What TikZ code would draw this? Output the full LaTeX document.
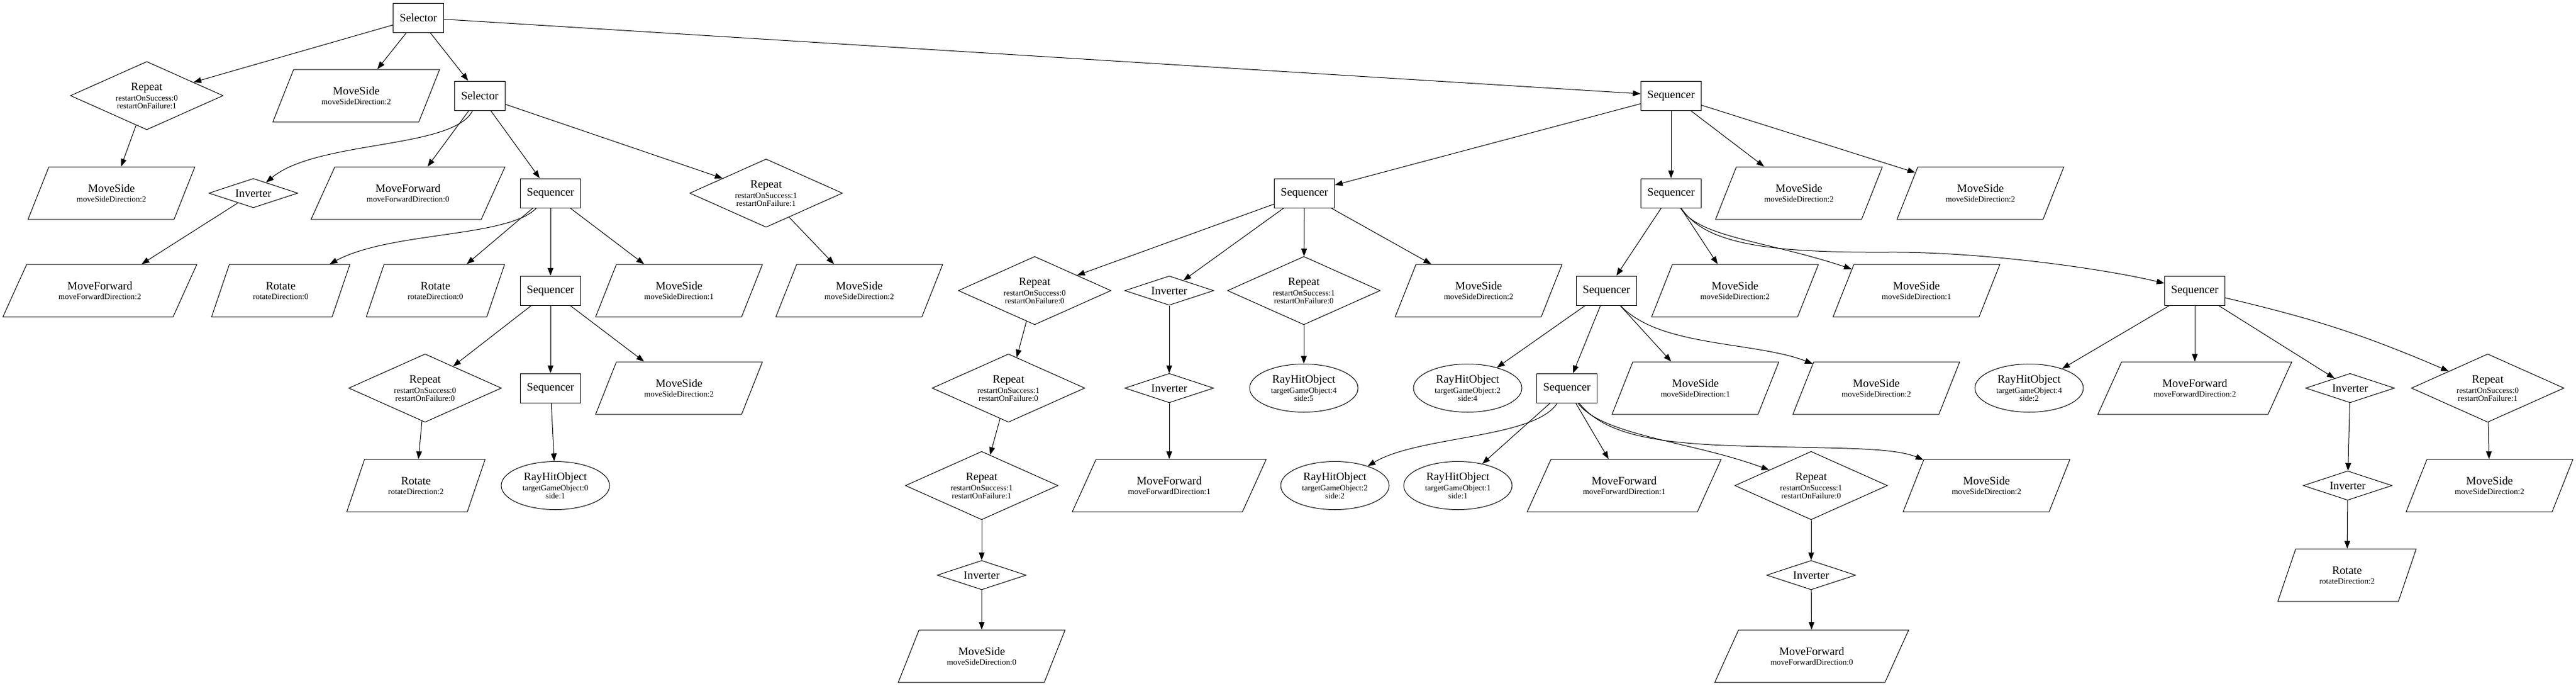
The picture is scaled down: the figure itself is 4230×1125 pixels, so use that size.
\documentclass[tikz,border=0pt]{standalone}
\usepackage{fontspec}
\setmainfont{Liberation Serif}
\usetikzlibrary{shapes.geometric,arrows.meta}
\newcommand{\mainlab}[1]{{\fontsize{14}{14}\selectfont #1}}
\newcommand{\sublab}[1]{{\fontsize{10}{10}\selectfont #1}}
\newcommand{\twolab}[2]{\mainlab{#1}\\[2.5pt]\sublab{#2}}
\newcommand{\threelab}[3]{\mainlab{#1}\\[3.5pt]\sublab{#2}\\\sublab{#3}}
\begin{document}
\begin{tikzpicture}[x=0.75pt,y=-0.75pt,
  base/.style={draw, line width=0.75pt, align=center, font={\fontsize{10}{9.5}\selectfont\lineskiplimit=-20pt}},
  boxn/.style={base, rectangle, minimum height=36pt, inner xsep=8pt, inner ysep=0pt},
  repn/.style={base, diamond, aspect=2.24, inner sep=0pt, minimum width=188pt, minimum height=84pt},
  invn/.style={base, diamond, aspect=3, inner sep=0pt, minimum width=109.5pt, minimum height=36pt},
  rayn/.style={base, ellipse, inner sep=0pt, minimum width=133.5pt, minimum height=59.25pt},
  parn/.style={base, trapezium, trapezium stretches=true, inner sep=0pt, minimum height=64.5pt},
  msn/.style={parn, trapezium left angle=57, trapezium right angle=123, minimum width=205.5pt},
  mfn/.style={parn, trapezium left angle=53, trapezium right angle=127, minimum width=239.25pt},
  rtn/.style={parn, trapezium left angle=61, trapezium right angle=119, minimum width=171.75pt},
  conn/.style={-{Triangle[length=9.5pt,width=7pt]}, line width=0.75pt}
]
\useasboundingbox (0,0) rectangle (4230,1125);

% rank 0
\node[boxn] (root) at (687,29) {\mainlab{Selector}};
% rank 1
\node[repn] (a1) at (241,157) {\threelab{Repeat}{restartOnSuccess:0}{restartOnFailure:1}};
\node[msn] (m1) at (585,157) {\twolab{MoveSide}{moveSideDirection:2}};
\node[boxn] (sel2) at (788,157) {\mainlab{Selector}};
\node[boxn] (seqC) at (2744,157) {\mainlab{Sequencer}};
% rank 2
\node[msn] (msa) at (183,317) {\twolab{MoveSide}{moveSideDirection:2}};
\node[invn] (inv1) at (416,317) {\mainlab{Inverter}};
\node[mfn] (mf0) at (670,317) {\twolab{MoveForward}{moveForwardDirection:0}};
\node[boxn] (seqA) at (904,317) {\mainlab{Sequencer}};
\node[repn] (a2) at (1258,317) {\threelab{Repeat}{restartOnSuccess:1}{restartOnFailure:1}};
\node[boxn] (seqB) at (2142,317) {\mainlab{Sequencer}};
\node[boxn] (seqD) at (2744,317) {\mainlab{Sequencer}};
\node[msn] (c1) at (2954,317) {\twolab{MoveSide}{moveSideDirection:2}};
\node[msn] (c2) at (3252,317) {\twolab{MoveSide}{moveSideDirection:2}};
% rank 3
\node[mfn] (mf2) at (164,477) {\twolab{MoveForward}{moveForwardDirection:2}};
\node[rtn] (rot0a) at (461,477) {\twolab{Rotate}{rotateDirection:0}};
\node[rtn] (rot0b) at (715,477) {\twolab{Rotate}{rotateDirection:0}};
\node[boxn] (seqA1) at (904,477) {\mainlab{Sequencer}};
\node[msn] (ms1a) at (1115,477) {\twolab{MoveSide}{moveSideDirection:1}};
\node[msn] (ms2b) at (1411,477) {\twolab{MoveSide}{moveSideDirection:2}};
\node[repn] (b1) at (1699,477) {\threelab{Repeat}{restartOnSuccess:0}{restartOnFailure:0}};
\node[invn] (b2) at (1920,477) {\mainlab{Inverter}};
\node[repn] (b3) at (2141,477) {\threelab{Repeat}{restartOnSuccess:1}{restartOnFailure:0}};
\node[msn] (b4) at (2428,477) {\twolab{MoveSide}{moveSideDirection:2}};
\node[boxn] (seqD1) at (2638,477) {\mainlab{Sequencer}};
\node[msn] (d2) at (2849,477) {\twolab{MoveSide}{moveSideDirection:2}};
\node[msn] (d3) at (3147,477) {\twolab{MoveSide}{moveSideDirection:1}};
\node[boxn] (seqE) at (3604,477) {\mainlab{Sequencer}};
% rank 4
\node[repn] (a3) at (698,637) {\threelab{Repeat}{restartOnSuccess:0}{restartOnFailure:0}};
\node[boxn] (seqA4) at (904,637) {\mainlab{Sequencer}};
\node[msn] (ms2c) at (1115,637) {\twolab{MoveSide}{moveSideDirection:2}};
\node[repn] (b5) at (1656,637) {\threelab{Repeat}{restartOnSuccess:1}{restartOnFailure:0}};
\node[invn] (b6) at (1920,637) {\mainlab{Inverter}};
\node[rayn] (rh45) at (2141,637) {\threelab{RayHitObject}{targetGameObject:4}{side:5}};
\node[rayn] (rh24) at (2410,637) {\threelab{RayHitObject}{targetGameObject:2}{side:4}};
\node[boxn] (seqF) at (2573,637) {\mainlab{Sequencer}};
\node[msn] (f1) at (2784,637) {\twolab{MoveSide}{moveSideDirection:1}};
\node[msn] (f2) at (3081,637) {\twolab{MoveSide}{moveSideDirection:2}};
\node[rayn] (rh42) at (3332,637) {\threelab{RayHitObject}{targetGameObject:4}{side:2}};
\node[mfn] (e2) at (3604,637) {\twolab{MoveForward}{moveForwardDirection:2}};
\node[invn] (e3) at (3859,637) {\mainlab{Inverter}};
\node[repn] (e4) at (4085,637) {\threelab{Repeat}{restartOnSuccess:0}{restartOnFailure:1}};
% rank 5
\node[rtn] (rot2) at (683,797) {\twolab{Rotate}{rotateDirection:2}};
\node[rayn] (rh01) at (912,797) {\threelab{RayHitObject}{targetGameObject:0}{side:1}};
\node[repn] (b7) at (1612,797) {\threelab{Repeat}{restartOnSuccess:1}{restartOnFailure:1}};
\node[mfn] (b9) at (1920,797) {\twolab{MoveForward}{moveForwardDirection:1}};
\node[rayn] (rh22) at (2192,797) {\threelab{RayHitObject}{targetGameObject:2}{side:2}};
\node[rayn] (rh11) at (2394,797) {\threelab{RayHitObject}{targetGameObject:1}{side:1}};
\node[mfn] (f3) at (2667,797) {\twolab{MoveForward}{moveForwardDirection:1}};
\node[repn] (f4) at (2974,797) {\threelab{Repeat}{restartOnSuccess:1}{restartOnFailure:0}};
\node[msn] (f5) at (3262,797) {\twolab{MoveSide}{moveSideDirection:2}};
\node[invn] (e5) at (3855,797) {\mainlab{Inverter}};
\node[msn] (e6) at (4088,797) {\twolab{MoveSide}{moveSideDirection:2}};
% rank 6
\node[invn] (b8) at (1612,944) {\mainlab{Inverter}};
\node[invn] (f6) at (2974,944) {\mainlab{Inverter}};
\node[rtn] (e7) at (3854,944) {\twolab{Rotate}{rotateDirection:2}};
% rank 7
\node[msn] (ms0) at (1612,1077) {\twolab{MoveSide}{moveSideDirection:0}};
\node[mfn] (f7) at (2975,1077) {\twolab{MoveForward}{moveForwardDirection:0}};

% edges
\draw[conn] (root) -- (a1);
\draw[conn] (root) -- (m1);
\draw[conn] (root) -- (sel2);
\draw[conn] (root) -- (seqC);
\draw[conn] (a1) -- (msa);
\draw[conn] (sel2) .. controls (745,245) and (520,230) .. (inv1);
\draw[conn] (sel2) -- (mf0);
\draw[conn] (sel2) -- (seqA);
\draw[conn] (sel2) -- (a2);
\draw[conn] (inv1) -- (mf2);
\draw[conn] (seqA) .. controls (835,390) and (640,380) .. (rot0a);
\draw[conn] (seqA) -- (rot0b);
\draw[conn] (seqA) -- (seqA1);
\draw[conn] (seqA) -- (ms1a);
\draw[conn] (a2) -- (ms2b);
\draw[conn] (seqA1) -- (a3);
\draw[conn] (seqA1) -- (seqA4);
\draw[conn] (seqA1) -- (ms2c);
\draw[conn] (a3) -- (rot2);
\draw[conn] (seqA4) -- (rh01);
\draw[conn] (seqC) -- (seqB);
\draw[conn] (seqC) -- (seqD);
\draw[conn] (seqC) -- (c1);
\draw[conn] (seqC) -- (c2);
\draw[conn] (seqB) -- (b1);
\draw[conn] (seqB) -- (b2);
\draw[conn] (seqB) -- (b3);
\draw[conn] (seqB) -- (b4);
\draw[conn] (b1) -- (b5);
\draw[conn] (b5) -- (b7);
\draw[conn] (b7) -- (b8);
\draw[conn] (b8) -- (ms0);
\draw[conn] (b2) -- (b6);
\draw[conn] (b6) -- (b9);
\draw[conn] (b3) -- (rh45);
\draw[conn] (seqD) -- (seqD1);
\draw[conn] (seqD) -- (d2);
\draw[conn] (seqD) .. controls (2790,390) and (2900,395) .. (d3);
\draw[conn] (seqD) .. controls (2800,400) and (2900,415) .. (3100,414) .. controls (3250,413) and (3450,440) .. (seqE);
\draw[conn] (seqD1) -- (rh24);
\draw[conn] (seqD1) -- (seqF);
\draw[conn] (seqD1) -- (f1);
\draw[conn] (seqD1) .. controls (2725,570) and (2880,560) .. (f2);
\draw[conn] (seqF) .. controls (2520,720) and (2330,715) .. (rh22);
\draw[conn] (seqF) -- (rh11);
\draw[conn] (seqF) -- (f3);
\draw[conn] (seqF) .. controls (2630,715) and (2780,725) .. (f4);
\draw[conn] (seqF) .. controls (2640,720) and (2740,730) .. (2900,733) .. controls (3030,736) and (3110,735) .. (f5);
\draw[conn] (f4) -- (f6);
\draw[conn] (f6) -- (f7);
\draw[conn] (seqE) -- (rh42);
\draw[conn] (seqE) -- (e2);
\draw[conn] (seqE) -- (e3);
\draw[conn] (seqE) to[bend left=5] (e4);
\draw[conn] (e3) -- (e5);
\draw[conn] (e5) -- (e7);
\draw[conn] (e4) -- (e6);
\end{tikzpicture}
\end{document}
